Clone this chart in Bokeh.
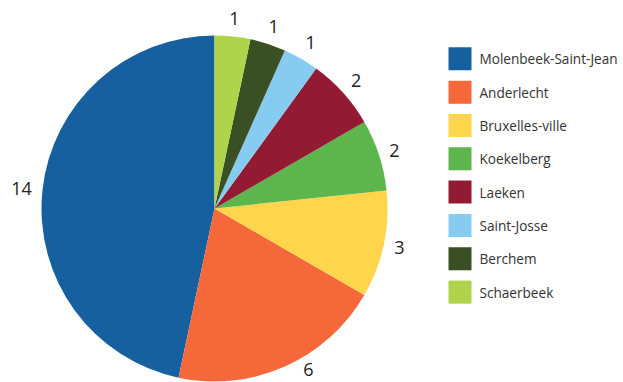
import math
from bokeh.plotting import figure
from bokeh.models import Range1d, ColumnDataSource
from bokeh.core.properties import value
from bokeh.embed import file_html
from bokeh.resources import INLINE

communes = ["Molenbeek-Saint-Jean", "Anderlecht", "Bruxelles-ville", "Koekelberg",
            "Laeken", "Saint-Josse", "Berchem", "Schaerbeek"]
counts = [14, 6, 3, 2, 2, 1, 1, 1]
colors = ["#16609F", "#F4683A", "#FFD64B", "#5DB54E", "#931A33", "#86CBF0", "#3A5024", "#AFD34A"]

W, H = 623, 382
CX, CY = 214, 208          # pie centre in screen pixels
R = 173
FONT = "Open Sans"

# data units == pixels, origin at the pie centre
x0, x1 = -CX, W - CX
y1, y0 = CY, CY - H

p = figure(width=W, height=H, output_backend="svg", toolbar_location=None,
           x_range=Range1d(x0, x1), y_range=Range1d(y0, y1), min_border=0)
p.axis.visible = False
p.grid.visible = False
p.outline_line_color = None
p.background_fill_color = "white"
p.border_fill_color = "white"

total = sum(counts)
starts, ends, mids = [], [], []
cum = 0
for c in counts:
    a0 = math.pi / 2 + 2 * math.pi * cum / total
    cum += c
    a1 = math.pi / 2 + 2 * math.pi * cum / total
    starts.append(a0); ends.append(a1); mids.append((a0 + a1) / 2)

src = ColumnDataSource(dict(start=starts, end=ends, color=colors))
p.wedge(x=0, y=0, radius=R, start_angle="start", end_angle="end", direction="anticlock",
        fill_color="color", line_color=None, source=src)

# data labels outside the pie
lx, ly, lt = [], [], []
gap = 11
th = 14
for c, a in zip(counts, mids):
    txt = str(c)
    tw = 10 * len(txt)
    ca, sa = math.cos(a), math.sin(a)
    d = min((tw / 2) / max(abs(ca), 1e-6), (th / 2) / max(abs(sa), 1e-6))
    r = R + gap + d
    x, y = r * ca, r * sa
    ymin = y0 + 13
    if y < ymin:
        y = ymin
        x = math.copysign(math.sqrt(max(r * r - y * y, 0)), ca) - 10
    lx.append(x); ly.append(y); lt.append(txt)

p.text(x=lx, y=ly, text=lt, text_align="center", text_baseline="middle",
       text_font=value(FONT), text_font_size="18px", text_color="#222222")

# legend
LX, LY0, STEP, SQ = 459.5, 58.3, 33.33, 23
leg_x = [LX - CX] * len(communes)
leg_y = [CY - (LY0 + i * STEP) for i in range(len(communes))]
p.rect(x=leg_x, y=leg_y, width=SQ, height=SQ, fill_color=colors, line_color=None)
p.text(x=[LX - CX + 19.5] * len(communes), y=leg_y, text=communes, text_align="left",
       text_baseline="middle", text_font=value(FONT), text_font_size="13.6px",
       text_color="#333333")

open("out.html", "w").write(file_html(p, INLINE))
